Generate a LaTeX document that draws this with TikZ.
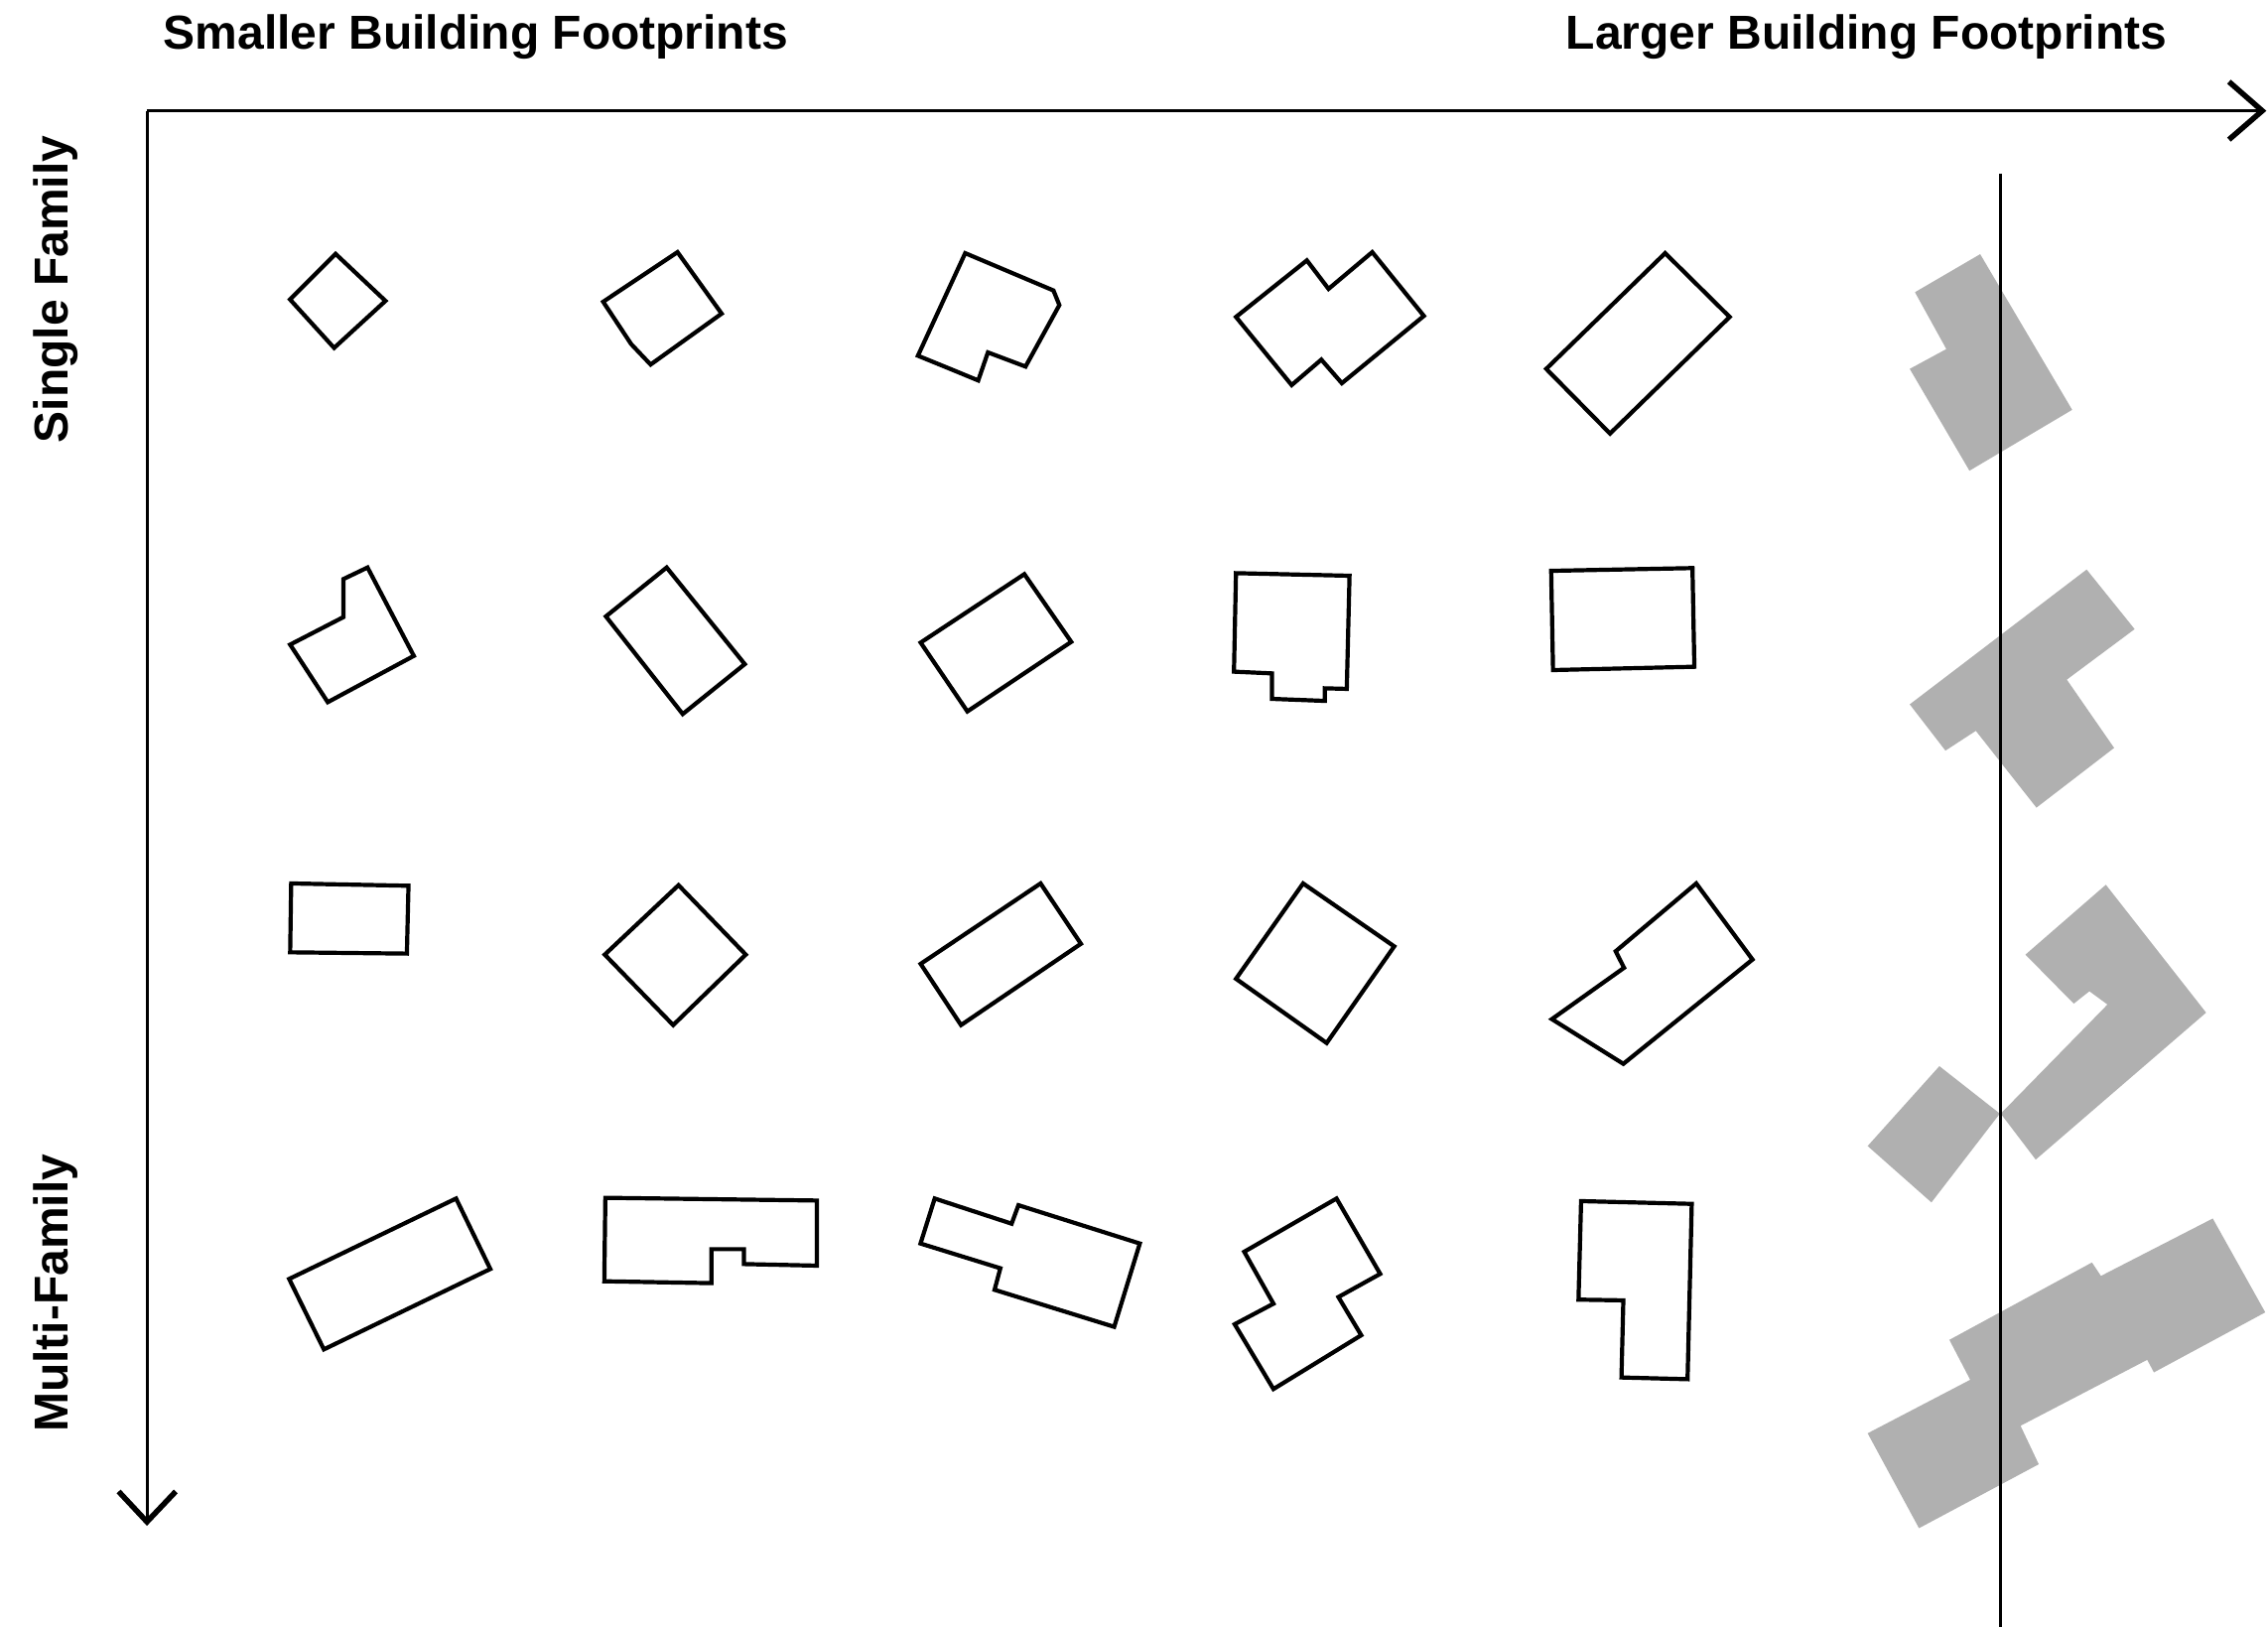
\documentclass[tikz,border=0pt]{standalone}
\usepackage{fontspec}
\setmainfont{Liberation Sans}
\definecolor{bgray}{RGB}{176,176,176}
\begin{document}
\begin{tikzpicture}[x=1.4573pt,y=-1.4573pt,
  bldg/.style={draw=black,line width=4.2pt,line join=miter},
  big/.style={fill=bgray,draw=none},
  axis/.style={draw=black,line width=3pt},
  chev/.style={draw=black,line width=5.5pt,line join=miter},
  lbl/.style={inner sep=0pt,anchor=base,font=\bfseries\fontsize{48}{58}\selectfont}]
\useasboundingbox (0,0) rectangle (1568,1125);
% labels
\node[lbl] (small) at (328.9,34.3) {Smaller Building Footprints};
\node[lbl] (large) at (1290.4,34.3) {Larger Building Footprints};
\node[lbl,rotate=90] (single) at (47,200) {Single Family};
\node[lbl,rotate=90] (multi) at (47,894) {Multi-Family};
% axes
\coordinate (O) at (101.6,76.6);
\coordinate (XE) at (1564,76.6);
\coordinate (YE) at (101.6,1052);
\draw[axis] (O) -- (XE);
\draw[axis] (O) -- (YE);
\draw[chev] (1541,56.5) -- (XE) -- (1541,96.5);
\draw[chev] (82,1031) -- (YE) -- (121.5,1031);
% row 1
\draw[bldg] (232,175.5) -- (266.5,208) -- (231,240.5) -- (200.5,207) -- cycle;
\draw[bldg] (468.4,174.3) -- (498.9,216.8) -- (449.8,252) -- (436.4,237.9) -- (417,208.6) -- cycle;
\draw[bldg] (667.3,175) -- (728.3,200.8) -- (732.4,210.9) -- (709,253.4) -- (683,243.6) -- (676.3,263) -- (656.9,255) -- (634.6,245.9) -- cycle;
\draw[bldg] (854.5,219.1) -- (903.5,180) -- (918.5,199.7) -- (948.7,174.3) -- (984.4,218.4) -- (927.7,264.9) -- (913.5,248.6) -- (893,266.2) -- cycle;
\draw[bldg] (1151.2,175) -- (1195.8,219.1) -- (1113.1,299.7) -- (1069,255) -- cycle;
% row 2
\draw[bldg] (254.1,392.3) -- (286.1,453.4) -- (226.6,485.4) -- (200.6,445.6) -- (237.4,426.6) -- (237.4,400.3) -- cycle;
\draw[bldg] (460.9,392.3) -- (514.9,459.1) -- (472,493.6) -- (418.9,426.1) -- cycle;
\draw[bldg] (708.2,396.9) -- (740.6,443.7) -- (668.8,491.8) -- (636.5,444.2) -- cycle;
\draw[bldg] (854.5,396.2) -- (933,398) -- (931.1,476.2) -- (915.9,475.8) -- (915.9,484.5) -- (879.4,483.1) -- (879.4,465.5) -- (853.1,464.3) -- cycle;
\draw[bldg] (1072.4,394.6) -- (1170.1,392.7) -- (1171.4,460.9) -- (1073.7,463.2) -- cycle;
% row 3
\draw[bldg] (201.3,610.7) -- (282.4,612.3) -- (281.3,659.2) -- (200.6,658.3) -- cycle;
\draw[bldg] (469.1,611.9) -- (515.6,659.9) -- (465.4,708.6) -- (418.1,659.9) -- cycle;
\draw[bldg] (719.4,610.7) -- (747.3,652.4) -- (664.4,708.6) -- (636.5,666.3) -- cycle;
\draw[bldg] (900.9,610.7) -- (963.9,654.2) -- (917.2,721) -- (854.5,676.6) -- cycle;
\draw[bldg] (1172.7,610.7) -- (1211.6,663.3) -- (1122.3,735.4) -- (1072.9,704.5) -- (1122.8,669) -- (1117,657.6) -- cycle;
% row 4
\draw[bldg] (315.3,828.5) -- (339,877.2) -- (223.9,932.8) -- (199.9,884.1) -- cycle;
\draw[bldg] (418.5,828) -- (564.7,829.9) -- (564.7,874.9) -- (514.3,873.8) -- (514.3,863.5) -- (491.8,863.5) -- (491.8,887) -- (417.8,885.7) -- cycle;
\draw[bldg] (646.2,828.5) -- (699.4,845.9) -- (704.1,833.1) -- (788,859.6) -- (770.3,917.2) -- (687.6,891.6) -- (691.6,876.7) -- (636.4,859.6) -- cycle;
\draw[bldg] (924,828.5) -- (954.2,880.6) -- (925.3,896.6) -- (941.1,923) -- (880.4,960.2) -- (853.6,915.4) -- (880.4,901.2) -- (860.2,865.3) -- cycle;
\draw[bldg] (1093.1,830.3) -- (1169.6,832.2) -- (1166.7,953.4) -- (1121,952.2) -- (1122.3,898.9) -- (1091.3,898.4) -- cycle;
% large grey footprints
\fill[big] (1369,175.7) -- (1432.6,283.3) -- (1361.6,325.4) -- (1320.3,255) -- (1345.6,241.3) -- (1323.9,202) -- cycle;
\fill[big] (1442.6,393.7) -- (1475.8,434.9) -- (1428.9,469.8) -- (1461.6,517) -- (1407.9,558.3) -- (1366,505.2) -- (1345,518.9) -- (1320.3,486.9) -- cycle;
\fill[big] (1400.3,659.9) -- (1455.9,611.6) -- (1525.2,700) -- (1407.4,801.6) -- (1383.2,769.8) -- (1457,694.4) -- (1444.5,685.2) -- (1433.7,693.8) -- cycle;
\fill[big] (1340.8,737) -- (1382.6,769.8) -- (1335.3,831.2) -- (1291.2,792.2) -- cycle;
\fill[big] (1529.8,842.3) -- (1566.1,907.2) -- (1489.1,948.7) -- (1484.5,940) -- (1396.9,985.6) -- (1409.5,1012.2) -- (1326.7,1056.4) -- (1291.2,990.8) -- (1362.1,953.8) -- (1347.7,926.2) -- (1446.3,872.7) -- (1452.5,882) -- cycle;
% dividing line
\coordinate (LT) at (1383.2,120);
\coordinate (LB) at (1383.2,1125);
\draw[draw=black,line width=3pt] (LT) -- (LB);
\end{tikzpicture}
\end{document}
